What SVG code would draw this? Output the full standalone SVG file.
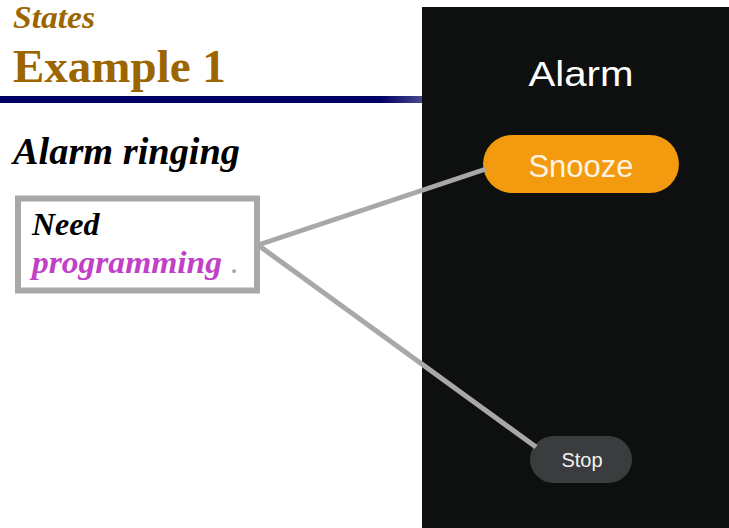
<svg xmlns="http://www.w3.org/2000/svg" width="729" height="528" viewBox="0 0 729 528">
<defs>
<linearGradient id="bar" x1="0" y1="0" x2="1" y2="0">
<stop offset="0" stop-color="#000066"/>
<stop offset="0.9" stop-color="#000066"/>
<stop offset="1" stop-color="#4a4a90"/>
</linearGradient>
<style>
.serif{font-family:"Liberation Serif","Times New Roman",serif;font-weight:bold}
.title{fill:#9c6500}
.sans{font-family:"Liberation Sans",Arial,sans-serif}
.conn{stroke:#a8a8a8;stroke-width:5;fill:none}
</style>
</defs>
<rect width="729" height="528" fill="#ffffff"/>
<g id="header">
<text class="serif title" x="13" y="28" font-size="31" font-style="italic" textLength="82" lengthAdjust="spacingAndGlyphs">States</text>
<text class="serif title" x="13" y="82" font-size="47">Example 1</text>
<rect x="0" y="96" width="423" height="7" fill="url(#bar)"/>
</g>
<text class="serif" x="13" y="164" font-size="38" font-style="italic" fill="#000" textLength="227" lengthAdjust="spacingAndGlyphs">Alarm ringing</text>
<g id="phone">
<rect x="422" y="7" width="307" height="521" fill="#0d100f"/>
<text class="sans" x="581" y="86" font-size="35" fill="#ffffff" text-anchor="middle" textLength="105" lengthAdjust="spacingAndGlyphs">Alarm</text>
</g>
<g id="snooze">
<rect x="483" y="135" width="196" height="58" rx="29" fill="#f39a0f"/>
<text class="sans" x="581" y="177" font-size="31" fill="#fdf3e2" text-anchor="middle">Snooze</text>
</g>
<g id="stop">
<rect x="530" y="436" width="102" height="47" rx="23.5" fill="#3a3c3e"/>
<text class="sans" x="582" y="467" font-size="20" fill="#f2f2f2" text-anchor="middle">Stop</text>
</g>
<g id="connectors">
<line class="conn" x1="258" y1="245" x2="486" y2="169"/>
<line class="conn" x1="258" y1="245" x2="536" y2="447"/>
</g>
<g id="note">
<rect x="18" y="198.5" width="239" height="92" fill="#ffffff" stroke="#a8a8a8" stroke-width="6"/>
<text class="serif" x="32" y="235" font-size="32" font-style="italic" fill="#000">Need</text>
<text class="serif" x="32" y="273" font-size="32" font-style="italic" fill="#c040c8" textLength="190" lengthAdjust="spacingAndGlyphs">programming</text>
<text class="serif" x="231" y="273" font-size="24" fill="#a8a8a8">.</text>
</g>
</svg>
